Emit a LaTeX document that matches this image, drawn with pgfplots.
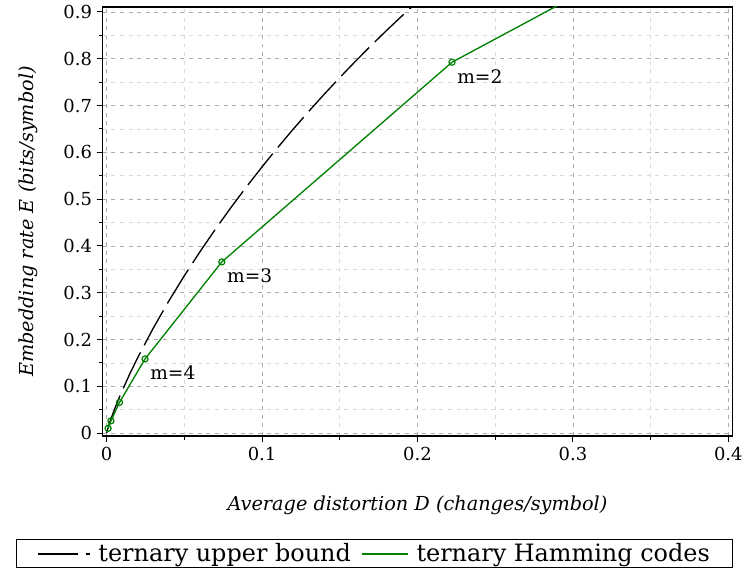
\documentclass[border=0pt]{standalone}
\usepackage{fontspec}
\setmainfont{DejaVu Serif}
\usepackage{pgfplots}
\pgfplotsset{compat=1.18}
\definecolor{hamgreen}{RGB}{0,128,0}

\pgfplotstableread{
D E
0 0
0.0005 0.0067
0.001 0.01241
0.002 0.02281
0.003 0.03246
0.005 0.0504
0.0075 0.07122
0.01 0.0908
0.015 0.12736
0.02 0.16144
0.03 0.22439
0.04 0.2823
0.05 0.3364
0.06 0.3874
0.07 0.4359
0.08 0.4822
0.09 0.5265
0.10 0.5690
0.11 0.6099
0.12 0.6494
0.13 0.6874
0.14 0.7242
0.15 0.7598
0.16 0.7943
0.17 0.8277
0.18 0.8601
0.19 0.8915
0.20 0.9219
0.21 0.9515
}\bound

\pgfplotstableread{
D E
0.000914 0.01015
0.002743 0.02613
0.00823 0.0655
0.02469 0.1585
0.0741 0.3658
0.2222 0.7925
0.6667 1.585
}\hamming

\begin{document}
\begin{tikzpicture}
\begin{axis}[
    scale only axis, width=474pt, height=323pt,
    xmin=-0.0026, xmax=0.4026, ymin=-0.0064, ymax=0.9106,
    xtick={0,0.1,0.2,0.3,0.4}, ytick={0,0.1,...,0.9},
    minor tick num=1,
    xticklabels={0,0.1,0.2,0.3,0.4},
    yticklabels={0,0.1,0.2,0.3,0.4,0.5,0.6,0.7,0.8,0.9},
    xtick pos=bottom, ytick pos=left, tick align=outside,
    major tick length=4.5pt, minor tick length=3pt,
    every tick/.style={black, line width=0.8pt},
    axis line style={line width=1pt},
    tick label style={font=\fontsize{13.5}{16}\selectfont},
    grid=both,
    major grid style={gray!65, line width=0.6pt, dash pattern=on 3pt off 3.5pt},
    minor grid style={gray!30, line width=0.6pt, dash pattern=on 3pt off 3.5pt},
    xlabel={Average distortion D (changes/symbol)},
    ylabel={Embedding rate E (bits/symbol)},
    label style={font=\fontsize{14.5}{18}\selectfont\itshape},
    xlabel style={at={(axis description cs:0.5,0)}, anchor=center, yshift=-52pt},
    ylabel style={at={(axis description cs:0,0.5)}, anchor=center, yshift=56pt},
    legend columns=2,
    legend style={at={(axis description cs:0.432,0)}, anchor=center, yshift=-88.5pt,
      draw=black, line width=0.8pt, font=\fontsize{18}{21}\selectfont,
      inner xsep=15pt, inner ysep=1pt,
      /tikz/every odd column/.append style={column sep=4pt},
      /tikz/every even column/.append style={column sep=6pt}},
    clip=true,
]
\addplot[black, line width=1pt, dash pattern=on 30pt off 6pt,
  legend image code/.code={
    \draw[black, line width=1.4pt, solid] (0pt,0pt) -- (30pt,0pt);
    \draw[black, line width=1.4pt, solid] (36pt,0pt) -- (39pt,0pt);}]
  table[x=D, y=E] {\bound};
\addlegendentry{ternary upper bound}
\addplot[hamgreen, line width=1pt, mark=o, mark size=2.3pt,
  mark options={line width=0.9pt},
  legend image code/.code={
    \draw[draw=hamgreen, line width=1.4pt, solid] (0pt,0pt) -- (34pt,0pt);}]
  table[x=D, y=E] {\hamming};
\addlegendentry{ternary Hamming codes}
\node[anchor=west, inner sep=0pt, xshift=3.8pt, yshift=-10.5pt,
  font=\fontsize{14}{16}\selectfont] at (axis cs:0.2222,0.7925) {m=2};
\node[anchor=west, inner sep=0pt, xshift=3.8pt, yshift=-10.5pt,
  font=\fontsize{14}{16}\selectfont] at (axis cs:0.0741,0.3658) {m=3};
\node[anchor=west, inner sep=0pt, xshift=3.8pt, yshift=-10.5pt,
  font=\fontsize{14}{16}\selectfont] at (axis cs:0.02469,0.1585) {m=4};
\end{axis}
\path[use as bounding box] ([shift={(-77.25pt,-99.75pt)}]current axis.south west)
  rectangle ([shift={(9pt,5.25pt)}]current axis.north east);
\end{tikzpicture}
\end{document}
